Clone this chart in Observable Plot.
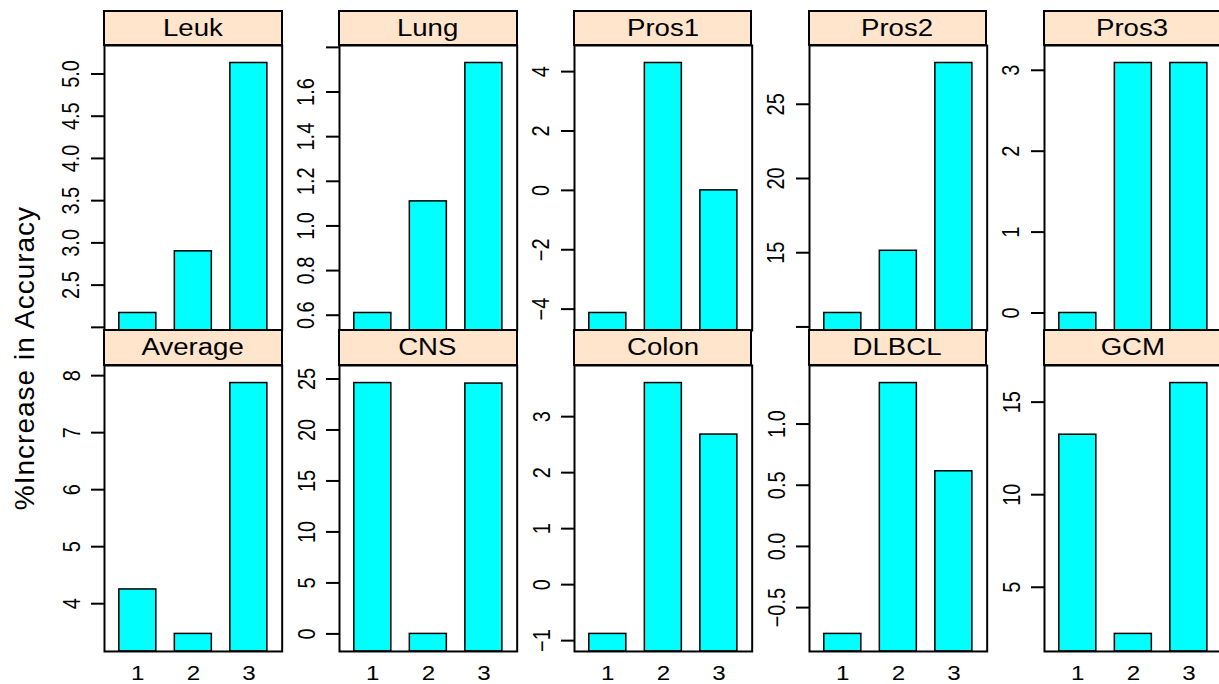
<!DOCTYPE html>
<html><head><meta charset="utf-8">
<script src="https://cdn.jsdelivr.net/npm/d3@7"></script>
<script src="https://cdn.jsdelivr.net/npm/@observablehq/plot@0.6"></script>
<style>
body{margin:0;background:#fff;font-family:"Liberation Sans",Arial,Helvetica,sans-serif;}
#chart{position:relative;width:1219px;height:684px;overflow:hidden;background:#fff;}
#chart svg{position:absolute;overflow:visible;}
#chart svg [aria-label="y-axis tick"]{stroke-width:2px;}
.strip{position:absolute;background:#FFE5CC;border:2px solid #000;box-sizing:border-box;text-align:center;font-size:23px;font-weight:400;color:#000;white-space:nowrap;}
.strip span{display:inline-block;transform:scaleX(1.2);}
.ylab{position:absolute;font-size:28px;letter-spacing:1px;font-weight:400;white-space:nowrap;transform:translate(-50%,-50%) rotate(-90deg);color:#000;}
</style></head><body><div id="chart"></div><script>
// ---- data ----
const panelNames = ["Leuk","Lung","Pros1","Pros2","Pros3","Average","CNS","Colon","DLBCL","GCM"];
const categories = ["1","2","3"];

const leukValues    = [2.17, 2.90, 5.13];
const lungValues    = [0.61, 1.11, 1.73];
const pros1Values   = [-4.13, 4.29, 0.0];
const pros2Values   = [10.94, 15.13, 27.78];
const pros3Values   = [0.0, 3.09, 3.09];
const averageValues = [4.25, 3.47, 7.87];
const cnsValues     = [24.6, 0.0, 24.55];
const colonValues   = [-0.88, 3.6, 2.68];
const dlbclValues   = [-0.715, 1.335, 0.614];
const gcmValues     = [13.24, 2.48, 16.03];

const leukTicks    = [2.0, 2.5, 3.0, 3.5, 4.0, 4.5, 5.0];
const leukLabels   = ["", "2.5", "3.0", "3.5", "4.0", "4.5", "5.0"];
const lungTicks    = [0.6, 0.8, 1.0, 1.2, 1.4, 1.6, 1.8];
const lungLabels   = ["0.6", "0.8", "1.0", "1.2", "1.4", "1.6", ""];
const pros1Ticks   = [-4, -2, 0, 2, 4];
const pros1Labels  = ["\u22124", "\u22122", "0", "2", "4"];
const pros2Ticks   = [10, 15, 20, 25];
const pros2Labels  = ["", "15", "20", "25"];
const pros3Ticks   = [0, 1, 2, 3];
const pros3Labels  = ["0", "1", "2", "3"];
const averageTicks = [4, 5, 6, 7, 8];
const averageLabels= ["4", "5", "6", "7", "8"];
const cnsTicks     = [0, 5, 10, 15, 20, 25];
const cnsLabels    = ["0", "5", "10", "15", "20", "25"];
const colonTicks   = [-1, 0, 1, 2, 3];
const colonLabels  = ["\u22121", "0", "1", "2", "3"];
const dlbclTicks   = [-0.5, 0.0, 0.5, 1.0];
const dlbclLabels  = ["\u22120.5", "0.0", "0.5", "1.0"];
const gcmTicks     = [5, 10, 15];
const gcmLabels    = ["5", "10", "15"];

const yTitle = "%Increase in Accuracy";

const panelValues = [leukValues, lungValues, pros1Values, pros2Values, pros3Values,
                     averageValues, cnsValues, colonValues, dlbclValues, gcmValues];
const panelTicks  = [leukTicks, lungTicks, pros1Ticks, pros2Ticks, pros3Ticks,
                     averageTicks, cnsTicks, colonTicks, dlbclTicks, gcmTicks];
const panelLabels = [leukLabels, lungLabels, pros1Labels, pros2Labels, pros3Labels,
                     averageLabels, cnsLabels, colonLabels, dlbclLabels, gcmLabels];

// ---- layout ----
const chart = document.getElementById("chart");
const colLeft0 = 104, colStep = 234.9, pw = 177.7;
const rows = [
  {stripTop: 11, panelTop: 45, panelBottom: 330},
  {stripTop: 330, panelTop: 365, panelBottom: 651}
];
const mL = 62, mR = 1, mT = 1;

panelNames.forEach((name, i) => {
  const r = Math.floor(i / 5), c = i % 5;
  const geo = rows[r];
  const left = colLeft0 + c * colStep;
  const ph = geo.panelBottom - geo.panelTop;
  const mB = r === 1 ? 34 : 1;
  const vals = panelValues[i];
  const data = categories.map((cat, k) => ({cat, v: vals[k]}));
  const [mn, mx] = d3.extent(vals);
  const pad = 0.07 * (mx - mn);
  const lo = mn - pad, hi = mx + pad;
  const ticks = panelTicks[i], labs = panelLabels[i];
  const fmt = d => { const k = ticks.findIndex(t => Math.abs(t - d) < 1e-9); return k >= 0 ? labs[k] : ""; };

  const marks = [
    Plot.barY(data, {x: "cat", y1: () => lo, y2: "v", fill: "#00FFFF", stroke: "black", strokeWidth: 1.5}),
    Plot.frame({stroke: "black", strokeWidth: 2}),
    Plot.axisY({ticks, tickFormat: fmt, tickSize: 13, tickPadding: 12, tickRotate: -90,
                strokeWidth: 2, fontSize: 20, label: null})
  ];
  if (r === 1) marks.push(Plot.axisX({tickSize: 0, tickPadding: 14, fontSize: 21, label: null}));

  const svg = Plot.plot({
    width: mL + pw + mR, height: mT + ph + mB,
    marginLeft: mL, marginRight: mR, marginTop: mT, marginBottom: mB,
    style: {fontFamily: '"Liberation Sans", Arial, sans-serif', fontSize: "20px", color: "black", background: "transparent", overflow: "visible"},
    x: {type: "band", domain: categories, paddingInner: 1/3, paddingOuter: 0.2667, round: false, axis: null},
    y: {domain: [lo, hi], axis: null},
    marks
  });
  // widen glyphs slightly, as in the reference rendering
  svg.querySelectorAll('g[aria-label="y-axis tick label"] text').forEach(t => {
    t.setAttribute("transform", (t.getAttribute("transform") || "") + " scale(1,1.15)");
  });
  svg.querySelectorAll('g[aria-label="x-axis tick label"] text').forEach(t => {
    t.setAttribute("transform", (t.getAttribute("transform") || "") + " scale(1.15,1)");
  });
  svg.style.left = (left - mL) + "px";
  svg.style.top = (geo.panelTop - mT) + "px";
  chart.appendChild(svg);

  const strip = document.createElement("div");
  strip.className = "strip";
  const span = document.createElement("span");
  span.textContent = name;
  strip.appendChild(span);
  const sh = geo.panelTop - geo.stripTop + 1;
  strip.style.left = (left - 1) + "px";
  strip.style.top = (geo.stripTop - 1) + "px";
  strip.style.width = (pw + 2) + "px";
  strip.style.height = (sh + 1) + "px";
  strip.style.lineHeight = (sh - 3) + "px";
  chart.appendChild(strip);
});

const yl = document.createElement("div");
yl.className = "ylab";
yl.textContent = yTitle;
yl.style.left = "25px";
yl.style.top = "358px";
chart.appendChild(yl);
</script></body></html>
